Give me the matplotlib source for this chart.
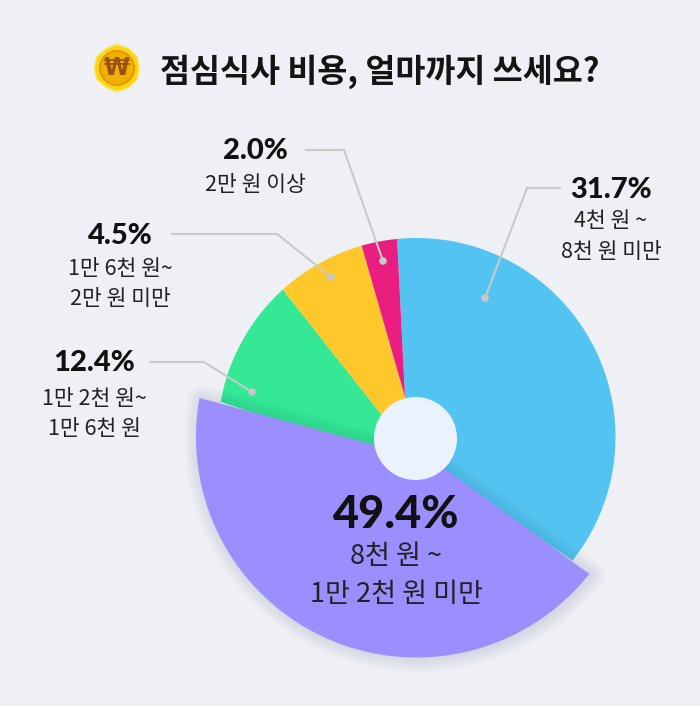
import numpy as np
import matplotlib.pyplot as plt
from matplotlib.patches import Circle, PathPatch
from matplotlib.path import Path
from matplotlib.transforms import Affine2D

plt.rcParams['font.family'] = ['Noto Sans CJK KR', 'DejaVu Sans']

# survey values, biggest slice first
categories = ["8천 원 ~\n1만 2천 원 미만", "4천 원 ~\n8천 원 미만", "1만 2천 원~\n1만 6천 원",
              "1만 6천 원~\n2만 원 미만", "2만 원 이상"]
percent = [49.4, 31.7, 12.4, 4.5, 2.0]
# how much of the circle each slice really takes up in the picture (it is not to scale)
drawn_share = [42.17, 37.22, 10.44, 7.28, 2.89]
colors = ["#9B8FFF", "#53C4F1", "#34E895", "#FFC82A", "#E91E80"]

BG = "#EEF0F5"
H = 706


def Y(y):
    return H - y


def slice_path(center, radius, t1, t2, tip):
    # arc around center, closed on its own tip point
    t = np.radians(np.linspace(t1, t2, 120))
    xs = center[0] + radius * np.cos(t)
    ys = center[1] + radius * np.sin(t)
    verts = list(zip(xs, ys)) + [tip, tip]
    codes = [Path.MOVETO] + [Path.LINETO] * (len(verts) - 2) + [Path.CLOSEPOLY]
    return Path(verts, codes)


fig = plt.figure(figsize=(7, 7.06), dpi=100, facecolor=BG)
ax = fig.add_axes([0, 0, 1, 1])
ax.set_xlim(0, 700)
ax.set_ylim(0, H)
ax.axis("off")

# slice angles, counter clockwise starting from the pink/blue border
start = 95.6
order = [4, 3, 2, 0, 1]
angles = {}
a = start
for i in order:
    angles[i] = (a, a + drawn_share[i] * 3.6)
    a += drawn_share[i] * 3.6

pie_c = (416.5, Y(437))
tips = {1: (407.5, Y(447)), 2: (426, Y(471)), 3: (426, Y(471)), 4: (405, Y(397))}
for i in [2, 3, 1, 4]:
    p = slice_path(pie_c, 199, angles[i][0], angles[i][1], tips[i])
    ax.add_patch(PathPatch(p, fc=colors[i], ec="none", zorder=2))

# the big slice sits further out and throws a soft shadow
big = slice_path(pie_c, 220.5, angles[0][0], angles[0][1], (434, Y(461)))
for lw in np.arange(20, 0, -2.5):
    shadow = big.transformed(Affine2D().translate(2, -1))
    ax.add_patch(PathPatch(shadow, fc="none", ec="#30304a", lw=lw, alpha=0.011,
                           joinstyle="round", zorder=3))
ax.add_patch(PathPatch(big, fc=colors[0], ec="none", zorder=4))
ax.add_patch(Circle((415.5, Y(438.5)), 41.5, fc="#EAF2FE", ec="none", zorder=5))

# leader lines
leaders = [
    ([560, 527, 485], [188, 188, 298]),
    ([150, 204, 252], [362, 362, 392]),
    ([172, 277, 331], [234, 234, 277]),
    ([306, 344, 383], [150, 150, 261]),
]
for xs, ys in leaders:
    ax.plot(xs, [Y(v) for v in ys], color="#C9C9C9", lw=1.5, zorder=6, solid_joinstyle="miter")
    ax.add_patch(Circle((xs[-1], Y(ys[-1])), 3.8, fc="#C9C9C9", ec="none", zorder=6))

# labels: x, y of the percent, y of each sub line, font sizes
label_pos = {
    0: (396, 515, [556, 595], 32.5, 19.5),
    1: (611, 190, [221, 252], 21, 15.5),
    2: (94, 363, [399, 429], 21, 15.5),
    3: (120, 236, [269, 299], 21, 15.5),
    4: (255, 151, [185], 21, 15.5),
}
for i, (x, y, subs, fs1, fs2) in label_pos.items():
    ax.text(x, Y(y), f"{percent[i]}%", ha="center", va="center", fontsize=fs1,
            fontweight="black", family="Lato", color="#111111", zorder=7)
    for line, sy in zip(categories[i].split("\n"), subs):
        ax.text(x, Y(sy), line, ha="center", va="center", fontsize=fs2,
                fontweight="medium", color="#222222", zorder=7)

# title and coin
ax.text(380, Y(72), "점심식사 비용, 얼마까지 쓰세요?", ha="center", va="center",
        fontsize=23.5, fontweight="bold", color="#141414")
coin_t = np.radians(np.arange(0, 360, 30))
coin_r = [22, 23, 22.5, 23.5, 22, 23, 22.5, 23, 22, 23.5, 22.5, 23]
ax.add_patch(plt.Polygon(np.column_stack([117 + np.array(coin_r) * np.cos(coin_t),
                                          Y(68) + np.array(coin_r) * np.sin(coin_t)]),
                         fc="#FBD31C", ec="#FFE23A", lw=1))
ax.add_patch(Circle((117, Y(68)), 17, fc="#F0B000", ec="#E59A00", lw=1.5))
ax.text(117, Y(68), "₩", ha="center", va="center", fontsize=17, fontweight="black",
        family="DejaVu Sans", color="#9A5210")

fig.savefig("out.png", dpi=100, facecolor=BG)
